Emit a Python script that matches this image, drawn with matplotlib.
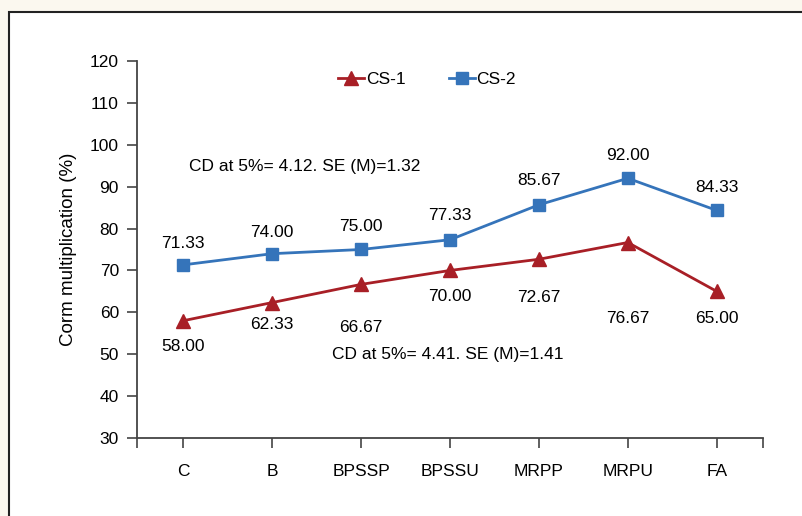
import matplotlib.pyplot as plt
from matplotlib.patches import Rectangle

plt.rcParams['font.family'] = ['Liberation Sans', 'DejaVu Sans']

# data
treatments = ['C', 'B', 'BPSSP', 'BPSSU', 'MRPP', 'MRPU', 'FA']
cs1 = [58.00, 62.33, 66.67, 70.00, 72.67, 76.67, 65.00]
cs2 = [71.33, 74.00, 75.00, 77.33, 85.67, 92.00, 84.33]
note_cs2 = 'CD at 5%= 4.12. SE (M)=1.32'
note_cs1 = 'CD at 5%= 4.41. SE (M)=1.41'

# label offsets in pixels (positive = below the point)
off1 = [26, 22, 43, 26, 38, 76, 27]
off2 = [-21, -21, -23, -24, -24, -23, -23]

red = '#a81f26'
blue = '#3574ba'
W, H = 803, 516

fig = plt.figure(figsize=(W / 100, H / 100), dpi=100, facecolor='#fbf8ef')
# white panel with border on left and top
fig.patches.append(Rectangle((9 / W, -0.1), 2, 1.1 - 12 / H, transform=fig.transFigure,
                             facecolor='white', edgecolor='#222222', linewidth=1.5, zorder=-5))

ax = fig.add_axes([137 / W, 1 - 438 / H, (763 - 137) / W, (438 - 61) / H])
ax.set_facecolor('none')
ax.set_zorder(2)

x = list(range(len(treatments)))
ax.plot(x, cs1, color=red, lw=2.0, marker='^', ms=10, label='CS-1', clip_on=False)
ax.plot(x, cs2, color=blue, lw=2.0, marker='s', ms=8.5, label='CS-2', clip_on=False)

for xi, v, o in zip(x, cs1, off1):
    ax.annotate(f'{v:.2f}', (xi, v), xytext=(0, -o * 0.72), textcoords='offset points',
                ha='center', va='center', fontsize=12.5)
for xi, v, o in zip(x, cs2, off2):
    ax.annotate(f'{v:.2f}', (xi, v), xytext=(0, -o * 0.72), textcoords='offset points',
                ha='center', va='center', fontsize=12.5)

ax.text((189 - 137) / (763 - 137), 1 - (166 - 61) / (438 - 61), note_cs2,
        transform=ax.transAxes, ha='left', va='center', fontsize=12.5)
ax.text((332 - 137) / (763 - 137), 1 - (355 - 61) / (438 - 61), note_cs1,
        transform=ax.transAxes, ha='left', va='center', fontsize=12.5)

ax.set_xlim(-0.52, 6.52)
ax.set_ylim(30, 120)
ax.set_yticks(range(30, 121, 10))
ax.set_xticks(x)
ax.set_xticklabels(treatments)
ax.set_xticks([-0.52, 6.52], minor=True)

for s in ['top', 'right']:
    ax.spines[s].set_visible(False)
for s in ['left', 'bottom']:
    ax.spines[s].set_color('#444444')
    ax.spines[s].set_linewidth(1.3)

ax.tick_params(axis='both', which='both', direction='out', length=7, width=1.2, color='#444444',
               labelsize=12.5)
ax.tick_params(axis='x', pad=12)
ax.tick_params(axis='y', pad=6)

ax.set_ylabel('Corm multiplication (%)', fontsize=13.5, labelpad=9)

ax.legend(loc='center', bbox_to_anchor=((427 - 137) / (763 - 137), 1 - (79 - 61) / (438 - 61)),
          ncol=2, frameon=False, fontsize=12.5, handlelength=1.5, handletextpad=0.1,
          columnspacing=2.5, borderpad=0)

fig.savefig('out.png', dpi=100, facecolor=fig.get_facecolor())
